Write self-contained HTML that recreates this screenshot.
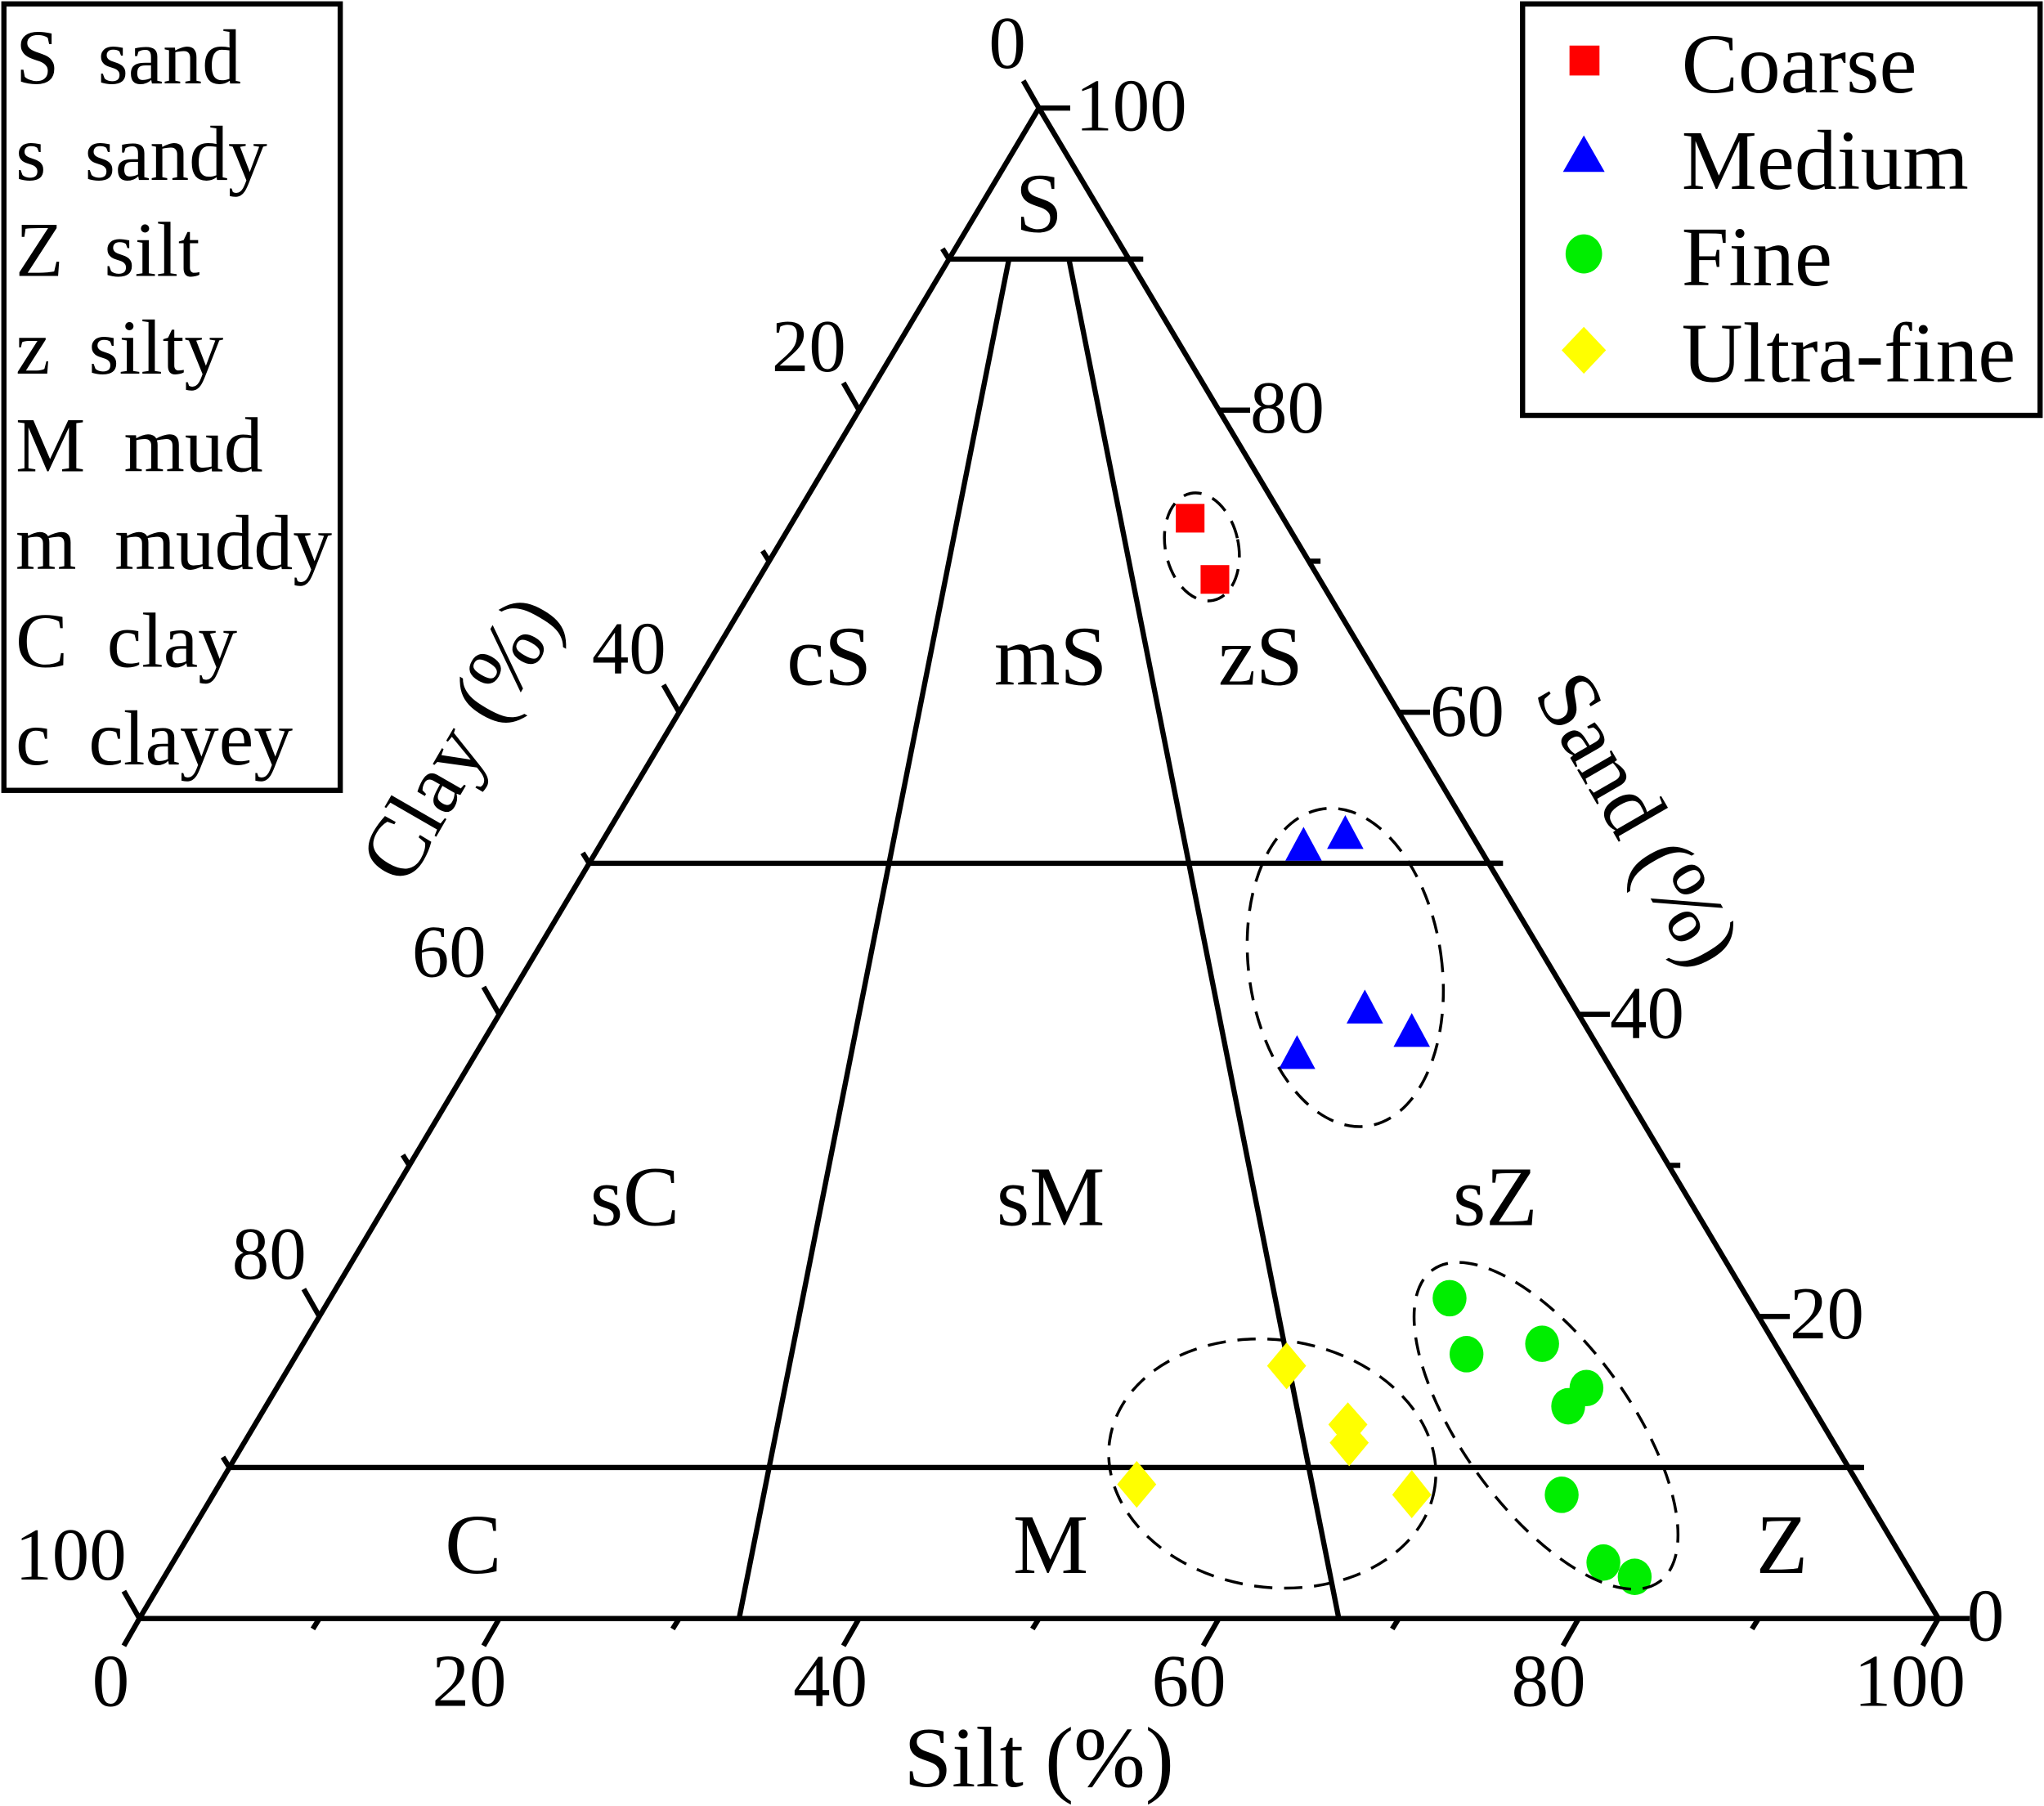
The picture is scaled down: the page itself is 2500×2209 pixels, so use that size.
<!DOCTYPE html>
<html><head><meta charset="utf-8"><style>html,body{margin:0;padding:0;background:#fff}svg{display:block}</style></head>
<body>
<svg width="2500" height="2209" viewBox="0 0 1568 1387" preserveAspectRatio="none" xmlns="http://www.w3.org/2000/svg" font-family="'Liberation Serif', serif" fill="#000">
<rect width="1568" height="1387" fill="#fff"/>
<g stroke="#000" stroke-width="4" fill="none" stroke-linejoin="miter">
<polygon points="107,1243 1487,1243 797,83"/>
<line x1="727" y1="199" x2="877" y2="199"/>
<line x1="452" y1="663" x2="1153" y2="663"/>
<line x1="176" y1="1127" x2="1430" y2="1127"/>
<line x1="567" y1="1243" x2="774" y2="199"/>
<line x1="1027" y1="1243" x2="820" y2="199"/>
</g>
<g stroke="#000" stroke-width="4">
<line x1="107" y1="1243" x2="95" y2="1264"/>
<line x1="245" y1="1243" x2="240" y2="1251"/>
<line x1="383" y1="1243" x2="371" y2="1264"/>
<line x1="521" y1="1243" x2="516" y2="1251"/>
<line x1="659" y1="1243" x2="647" y2="1264"/>
<line x1="797" y1="1243" x2="792" y2="1251"/>
<line x1="935" y1="1243" x2="923" y2="1264"/>
<line x1="1073" y1="1243" x2="1068" y2="1251"/>
<line x1="1211" y1="1243" x2="1199" y2="1264"/>
<line x1="1349" y1="1243" x2="1344" y2="1251"/>
<line x1="1487" y1="1243" x2="1475" y2="1264"/>
<line x1="797" y1="83" x2="821" y2="83"/>
<line x1="866" y1="199" x2="875" y2="199"/>
<line x1="935" y1="315" x2="959" y2="315"/>
<line x1="1004" y1="431" x2="1013" y2="431"/>
<line x1="1073" y1="547" x2="1097" y2="547"/>
<line x1="1142" y1="663" x2="1151" y2="663"/>
<line x1="1211" y1="779" x2="1235" y2="779"/>
<line x1="1280" y1="895" x2="1289" y2="895"/>
<line x1="1349" y1="1011" x2="1373" y2="1011"/>
<line x1="1418" y1="1127" x2="1427" y2="1127"/>
<line x1="1487" y1="1243" x2="1511" y2="1243"/>
<line x1="797" y1="83" x2="785" y2="62"/>
<line x1="728" y1="199" x2="723" y2="191"/>
<line x1="659" y1="315" x2="647" y2="294"/>
<line x1="590" y1="431" x2="585" y2="423"/>
<line x1="521" y1="547" x2="509" y2="526"/>
<line x1="452" y1="663" x2="447" y2="655"/>
<line x1="383" y1="779" x2="371" y2="758"/>
<line x1="314" y1="895" x2="309" y2="887"/>
<line x1="245" y1="1011" x2="233" y2="990"/>
<line x1="176" y1="1127" x2="171" y2="1119"/>
<line x1="107" y1="1243" x2="95" y2="1222"/>
</g>
<g font-size="57" text-anchor="middle">
<text x="85" y="1310">0</text><text x="360" y="1310">20</text><text x="637" y="1310">40</text><text x="912" y="1310">60</text><text x="1188" y="1310">80</text><text x="1465" y="1310">100</text>
</g>
<g font-size="57">
<text x="825" y="100">100</text><text x="959" y="332">80</text><text x="1097" y="565">60</text><text x="1235" y="797">40</text><text x="1373" y="1028">20</text><text x="1509" y="1260">0</text>
</g>
<g font-size="57" text-anchor="end">
<text x="787" y="52">0</text><text x="649" y="285">20</text><text x="511" y="517">40</text><text x="373" y="750">60</text><text x="235" y="982">80</text><text x="97" y="1213">100</text>
</g>
<text x="797" y="1372" font-size="66" text-anchor="middle">Silt (%)</text>
<text transform="translate(372,578) rotate(-60)" font-size="66" text-anchor="middle">Clay (%)</text>
<text transform="translate(1238,640) rotate(60)" font-size="66" text-anchor="middle">Sand (%)</text>
<g font-size="65" text-anchor="middle">
<text x="797" y="178">S</text>
<text x="636" y="526">cS</text><text x="806" y="526">mS</text><text x="967" y="526">zS</text>
<text x="487" y="941">sC</text><text x="806" y="941">sM</text><text x="1147" y="941">sZ</text>
<text x="363" y="1208">C</text><text x="806" y="1208">M</text><text x="1367" y="1208">Z</text>
</g>
<g fill="#ff0000"><rect x="902" y="387" width="22" height="22"/><rect x="921" y="434" width="22" height="22"/></g>
<g fill="#0000ff">
<polygon points="1000,635 1014,661 986,661"/>
<polygon points="1032,626 1046,652 1018,652"/>
<polygon points="1047,760 1061,786 1033,786"/>
<polygon points="1083,778 1097,804 1069,804"/>
<polygon points="995,795 1009,821 981,821"/>
</g>
<g fill="#00ee00">
<ellipse cx="1112" cy="997" rx="13" ry="14"/><ellipse cx="1125" cy="1040" rx="13" ry="14"/>
<ellipse cx="1183" cy="1032" rx="13" ry="14"/><ellipse cx="1217" cy="1066" rx="13" ry="14"/>
<ellipse cx="1203" cy="1080" rx="13" ry="14"/><ellipse cx="1198" cy="1148" rx="13" ry="14"/>
<ellipse cx="1230" cy="1200" rx="13" ry="14"/><ellipse cx="1254" cy="1211" rx="13" ry="14"/>
</g>
<g fill="#ffff00">
<polygon points="987,1031 1002,1049 987,1067 972,1049"/>
<polygon points="1034,1077 1049,1094 1034,1112 1019,1094"/>
<polygon points="1035,1091 1050,1108 1035,1126 1020,1108"/>
<polygon points="872,1122 887,1140 872,1158 857,1140"/>
<polygon points="1083,1129 1098,1148 1083,1166 1068,1148"/>
</g>
<g fill="none" stroke="#000" stroke-width="2.2" stroke-dasharray="14,9">
<ellipse cx="922" cy="420" rx="28" ry="42" transform="rotate(-12 922 420)"/>
<ellipse cx="1032" cy="743" rx="74" ry="123" transform="rotate(-8 1032 743)"/>
<ellipse cx="976" cy="1124" rx="126" ry="95" transform="rotate(8 976 1124)"/>
<ellipse cx="1186" cy="1095" rx="148" ry="64" transform="rotate(54 1186 1095)"/>
</g>
<rect x="3" y="3" width="258" height="604" fill="none" stroke="#000" stroke-width="4"/>
<g font-size="60">
<text x="12" y="64">S</text><text x="75" y="64">sand</text>
<text x="12" y="138">s</text><text x="65" y="138">sandy</text>
<text x="12" y="212">Z</text><text x="80" y="212">silt</text>
<text x="12" y="287">z</text><text x="68" y="287">silty</text>
<text x="12" y="362">M</text><text x="95" y="362">mud</text>
<text x="12" y="437">m</text><text x="88" y="437">muddy</text>
<text x="12" y="512">C</text><text x="82" y="512">clay</text>
<text x="12" y="587">c</text><text x="68" y="587">clayey</text>
</g>
<rect x="1168" y="3" width="397" height="316" fill="none" stroke="#000" stroke-width="4"/>
<rect x="1204" y="35" width="23" height="23" fill="#ff0000"/>
<polygon points="1215,104 1231,132 1199,132" fill="#0000ff"/>
<ellipse cx="1215" cy="195" rx="14" ry="15" fill="#00ee00"/>
<polygon points="1215,251 1232,269 1215,287 1198,269" fill="#ffff00"/>
<g font-size="65">
<text x="1290" y="71">Coarse</text><text x="1290" y="145">Medium</text>
<text x="1290" y="219">Fine</text><text x="1290" y="293">Ultra-fine</text>
</g>
</svg>
</body></html>
